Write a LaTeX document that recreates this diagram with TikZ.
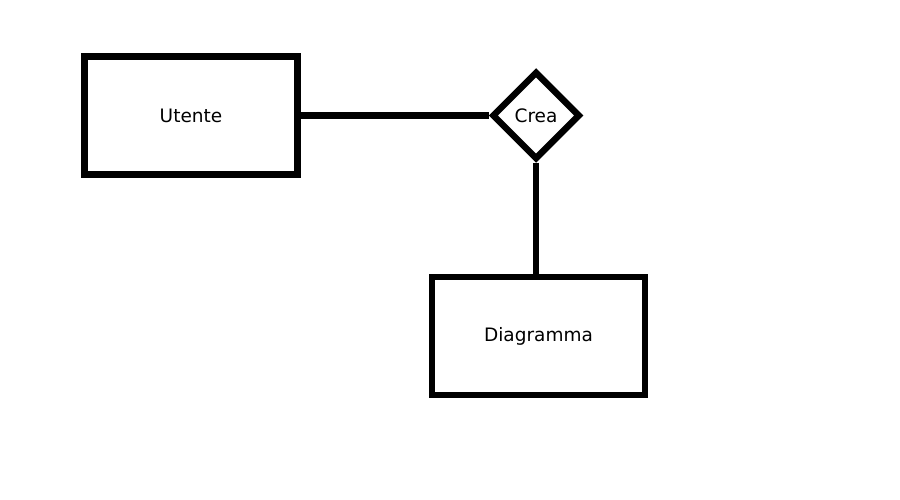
\documentclass[tikz,border=0pt]{standalone}
\usepackage{fontspec}
\setmainfont{DejaVu Sans}
\usetikzlibrary{shapes.geometric, positioning}
\tikzset{
  er/.style={
	x=1pt, y=-1pt, % one unit is one point, y grows downwards
	line width=6.5pt, % thick strokes for every shape
	every node/.style={font=\fontsize{18.5}{22}\selectfont},
  },
  entity/.style={draw, rectangle, minimum width=213pt, minimum height=118pt, inner sep=0pt}, % entity boxes
  relation/.style={draw, diamond, aspect=1, minimum width=88pt, minimum height=88pt, inner sep=0pt}, % relationship
}

\begin{document}
\begin{tikzpicture}[er]
	  \useasboundingbox (0,0) rectangle (900,500);
	  \node[entity] (utente) at (191,115.5) {Utente};
	  \node[relation] (crea) at (536,115.5) {Crea};
	  \node[entity] (diagramma) at (538.5,336) {Diagramma};

	  \draw   (utente.east) -- (crea.west)
		  (crea.south) -- (crea.south |- diagramma.north)
	  ;
	  \end{tikzpicture}
\end{document}
